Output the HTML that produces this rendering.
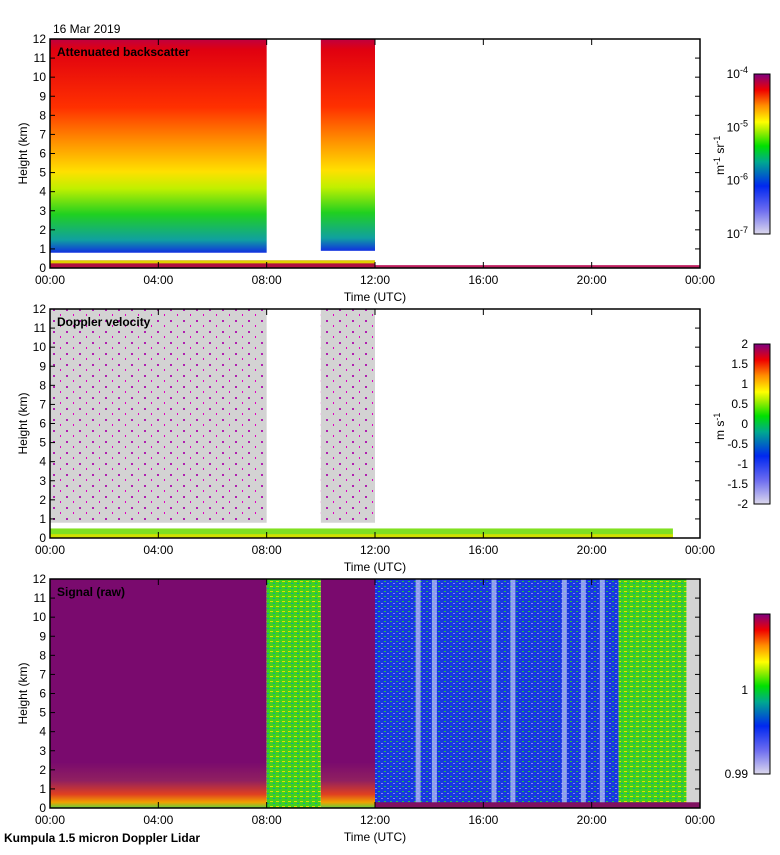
<!DOCTYPE html>
<html><head><meta charset="utf-8">
<style>
body{margin:0;background:#fff;font-family:"Liberation Sans",sans-serif;}
svg text{font-family:"Liberation Sans",sans-serif;font-size:12px;fill:#000;}
</style></head>
<body>
<svg id="chart" width="780" height="850" viewBox="0 0 780 850" xmlns="http://www.w3.org/2000/svg">
<defs>
<linearGradient id="cmap" x1="0" y1="1" x2="0" y2="0">
<stop offset="0" stop-color="#dcd8ec"/><stop offset="0.15" stop-color="#6b6bf0"/><stop offset="0.3" stop-color="#0028f0"/>
<stop offset="0.45" stop-color="#00a890"/><stop offset="0.55" stop-color="#00e000"/><stop offset="0.65" stop-color="#b0f000"/>
<stop offset="0.7" stop-color="#ffff00"/><stop offset="0.8" stop-color="#ff9000"/><stop offset="0.9" stop-color="#f00000"/>
<stop offset="1" stop-color="#800080"/></linearGradient>
<linearGradient id="bsc" x1="0" y1="1" x2="0" y2="0">
<stop offset="0" stop-color="#1030e0"/><stop offset="0.06" stop-color="#10a0a0"/><stop offset="0.18" stop-color="#20d020"/>
<stop offset="0.3" stop-color="#c0f000"/><stop offset="0.38" stop-color="#ffe000"/><stop offset="0.52" stop-color="#ff9000"/>
<stop offset="0.68" stop-color="#ff3000"/><stop offset="0.95" stop-color="#e00010"/><stop offset="1" stop-color="#c00040"/></linearGradient>
<linearGradient id="sig" x1="0" y1="1" x2="0" y2="0">
<stop offset="0" stop-color="#60d040"/><stop offset="0.025" stop-color="#f0a000"/><stop offset="0.06" stop-color="#e04020"/>
<stop offset="0.12" stop-color="#902060"/><stop offset="0.2" stop-color="#7a0a6e"/><stop offset="1" stop-color="#7a0a6e"/></linearGradient>
<pattern id="speck" width="13" height="11" patternUnits="userSpaceOnUse">
<rect width="13" height="11" fill="#d3d3d3"/><rect x="1" y="1" width="2" height="2" fill="#b020b0"/><rect x="8" y="6" width="1" height="2" fill="#e000c0"/></pattern>
<pattern id="blu" width="6" height="5" patternUnits="userSpaceOnUse">
<rect width="6" height="5" fill="#1838e0"/><rect x="0" y="1" width="2" height="1" fill="#20c050"/><rect x="3" y="3" width="2" height="1" fill="#8080f0"/></pattern>
<pattern id="grn" width="6" height="5" patternUnits="userSpaceOnUse">
<rect width="6" height="5" fill="#40d020"/><rect x="0" y="1" width="3" height="1" fill="#e0e000"/><rect x="3" y="3" width="2" height="1" fill="#10a0a0"/></pattern>
</defs>
<g id="g"></g>
</svg>
<script>
const panelTop=[39,309,579];
const panelTitles=["Attenuated backscatter","Doppler velocity","Signal (raw)"];
const dataSegments=[[0,8],[10,12]];
const cloudBase=[0.8,0.9];
const signalSegTimes=[[0,8],[8,10],[10,12],[12,21],[21,23.5],[23.5,24]];
const signalSegFill=["url(#sig)","url(#grn)","url(#sig)","url(#blu)","url(#grn)","#d3d3d3"];
const whiteStreaks=[13.5,14.1,16.3,17.0,18.9,19.6,20.3];
const xTicks=["00:00","04:00","08:00","12:00","16:00","20:00","00:00"];
const yTicks=[0,1,2,3,4,5,6,7,8,9,10,11,12];
const cbLabels=[["10","-4"],["10","-5"],["10","-6"],["10","-7"]];
const cbLabels2=["2","1.5","1","0.5","0","-0.5","-1","-1.5","-2"];
const NS="http://www.w3.org/2000/svg";
const g=document.getElementById('g');
const X0=50,X1=700,PH=229;
const xs=t=>X0+t/24*(X1-X0);
const ys=(p,h)=>panelTop[p]+PH-h/12*PH;
function el(tag,at,parent){const e=document.createElementNS(NS,tag);for(const k in at)e.setAttribute(k,at[k]);(parent||g).appendChild(e);return e;}
function txt(x,y,s,at){const e=el('text',Object.assign({x:x,y:y},at||{}));e.textContent=s;return e;}
for(let p=0;p<3;p++){
  const pg=el('g',{});
  
  
  if(p===0){
    dataSegments.forEach((s,i)=>{
      const r=el('rect',{x:xs(s[0]),y:ys(0,12),width:xs(s[1])-xs(s[0]),height:ys(0,cloudBase[i])-ys(0,12),fill:'url(#bsc)'},pg);
      
    });
    const b=el('rect',{x:xs(0),y:ys(0,0.4),width:xs(12)-xs(0),height:ys(0,0)-ys(0,0.4),fill:'#b01040'},pg);
    el('rect',{x:xs(0),y:ys(0,0.4),width:xs(12)-xs(0),height:3,fill:'#e0d000'},pg);
    el('rect',{x:xs(12),y:ys(0,0.15),width:xs(24)-xs(12),height:ys(0,0)-ys(0,0.15),fill:'#c02060'},pg);
    
  } else if(p===1){
    dataSegments.forEach((s,i)=>{
      const r=el('rect',{x:xs(s[0]),y:ys(1,12),width:xs(s[1])-xs(s[0]),height:ys(1,0.8)-ys(1,12),fill:'url(#speck)'},pg);
      
    });
    const b=el('rect',{x:xs(0),y:ys(1,0.5),width:xs(23)-xs(0),height:ys(1,0)-ys(1,0.5),fill:'#80e020'},pg);
    el('rect',{x:xs(0),y:ys(1,0.2),width:xs(23)-xs(0),height:ys(1,0)-ys(1,0.2),fill:'#d0e000'},pg);
    
  } else {
    signalSegTimes.forEach((s,i)=>{
      const r=el('rect',{x:xs(s[0]),y:ys(2,12),width:xs(s[1])-xs(s[0]),height:PH,fill:signalSegFill[i]},pg);
      
    });
    whiteStreaks.forEach(t=>{
      const r=el('rect',{x:xs(t),y:ys(2,12),width:5,height:PH,fill:'#c0c8f8',opacity:0.7},pg);
      
    });
    el('rect',{x:xs(12),y:ys(2,0.3),width:xs(24)-xs(12),height:ys(2,0)-ys(2,0.3),fill:'#801060'},pg);
  }
  const fr=el('rect',{x:X0,y:panelTop[p],width:X1-X0,height:PH,fill:'none',stroke:'#000','stroke-width':1.5},pg);
  
  yTicks.forEach(v=>{
    const y=ys(p,v);
    el('line',{x1:X0,x2:X0+5,y1:y,y2:y,stroke:'#000'},pg);el('line',{x1:X1-5,x2:X1,y1:y,y2:y,stroke:'#000'},pg);
    const t=txt(X0-4,y+4,String(v),{'text-anchor':'end'});
  });
  xTicks.forEach((s,i)=>{
    const x=xs(i*4);
    el('line',{x1:x,x2:x,y1:panelTop[p],y2:panelTop[p]+6,stroke:'#000'},pg);el('line',{x1:x,x2:x,y1:panelTop[p]+PH-6,y2:panelTop[p]+PH,stroke:'#000'},pg);
    const t=txt(x,panelTop[p]+PH+16,s,{'text-anchor':'middle'});
  });
  const xt=txt(375,panelTop[p]+PH+33,'Time (UTC)',{'text-anchor':'middle'});
  
  const yt=txt(0,0,'Height (km)',{'text-anchor':'middle',transform:`translate(27,${panelTop[p]+PH/2}) rotate(-90)`});
  
  const tt=txt(57,panelTop[p]+17,panelTitles[p],{'font-weight':'bold','font-size':'13px'});
  
  const cb=el('rect',{x:754,y:panelTop[p]+35,width:16,height:160,fill:'url(#cmap)',stroke:'#000'});
  
}
cbLabels.forEach((l,i)=>{
  const y=74+i*53.3+4;
  const t=txt(748,y,l[0],{'text-anchor':'end'});const s=el('tspan',{dy:-5,'font-size':'9px'},t);s.textContent=l[1];
  
});
const u1=txt(0,0,'m',{transform:'translate(724,175) rotate(-90)'});
u1.innerHTML='m<tspan dy="-4" font-size="9">-1</tspan><tspan dy="4"> sr</tspan><tspan dy="-4" font-size="9">-1</tspan>';

cbLabels2.forEach((l,i)=>{
  const t=txt(748,344+i*20+4,l,{'text-anchor':'end'});
  
});
const u2=txt(0,0,'',{transform:'translate(724,440) rotate(-90)'});
u2.innerHTML='m s<tspan dy="-4" font-size="9">-1</tspan>';

[['1',694],['0.99',778]].forEach(l=>{const t=txt(748,l[1],l[0],{'text-anchor':'end'});});
const d=txt(53,33,'16 Mar 2019');
const f=txt(4,842,'Kumpula 1.5 micron Doppler Lidar',{'font-weight':'bold'});
</script>
</body></html>
